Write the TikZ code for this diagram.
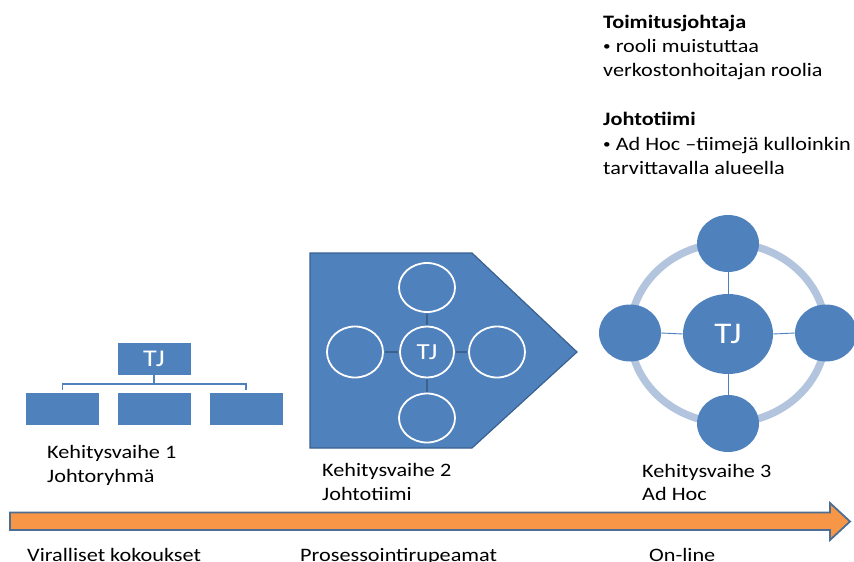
\documentclass[tikz,border=0pt]{standalone}
\usepackage{fontspec}
\setmainfont{Carlito}[FakeStretch=1.17]
\usetikzlibrary{shapes.geometric}
\definecolor{acc}{HTML}{4F81BD}
\definecolor{accdark}{HTML}{3A6190}
\definecolor{ringc}{HTML}{B3C5DE}
\definecolor{arrowfill}{HTML}{F79646}
\definecolor{arrowline}{HTML}{4D6D93}
\newcommand{\smallbul}{\raisebox{1.5pt}{\fontsize{13}{13}\selectfont •}}
\tikzset{
  orgbox/.style={fill=acc, minimum width=73pt, minimum height=32pt, inner sep=0pt},
  orgline/.style={draw=acc, line width=1.6pt},
  whitering/.style={ellipse, draw=white, line width=1.8pt, inner sep=0pt, text=white},
  spoketwo/.style={draw=accdark, line width=2pt},
  dot/.style={ellipse, fill=acc, inner sep=0pt, text=white},
  spokethree/.style={draw=acc, line width=0.9pt},
  lbl/.style={anchor=base west, inner sep=0pt, font=\fontsize{19}{22}\selectfont},
  hdr/.style={anchor=base west, inner sep=0pt, font=\fontsize{19}{22}\selectfont\bfseries},
}
\begin{document}
\begin{tikzpicture}[x=1pt,y=-1pt]
\useasboundingbox (0,0) rectangle (854,562);

% ---- Stage 1: hierarchy ----
\node[orgbox, text=white, font=\fontsize{24}{26}\selectfont] (tj1) at (154,359) {TJ};
\node[orgbox] (b1) at (62.5,409) {};
\node[orgbox] (b2) at (154,409) {};
\node[orgbox] (b3) at (246,409) {};
\coordinate (bar) at (154,384);
\draw[orgline] ([yshift=3pt]b1.north) -- (b1.north |- bar) -- (b3.north |- bar) -- ([yshift=3pt]b3.north);
\draw[orgline] (tj1.south) -- (bar);
\node[lbl] (s1a) at (47,458) {Kehitysvaihe 1};
\node[lbl] (s1b) at (47,482) {Johtoryhmä};

% ---- Stage 2: team inside a pentagon ----
\draw[fill=acc, draw=accdark, line width=1.2pt] (310,253) -- (472,253) -- (577,352) -- (472,448) -- (310,448) -- cycle;
\node[whitering, minimum width=54pt, minimum height=51pt, font=\fontsize{23}{25}\selectfont] (c2) at (427,352) {TJ};
\node[whitering, minimum width=56pt, minimum height=49pt] (t2) at (427,287.5) {};
\node[whitering, minimum width=56pt, minimum height=49pt] (d2) at (427,418) {};
\node[whitering, minimum width=56pt, minimum height=51pt] (l2) at (355,352) {};
\node[whitering, minimum width=56pt, minimum height=51pt] (r2) at (497,352) {};
\draw[spoketwo] ([yshift=1pt]c2.north) -- ([yshift=-1pt]t2.south);
\draw[spoketwo] ([yshift=-1pt]c2.south) -- ([yshift=1pt]d2.north);
\draw[spoketwo] ([xshift=-1pt]c2.west) -- ([xshift=1pt]l2.east);
\draw[spoketwo] ([xshift=1pt]c2.east) -- ([xshift=-1pt]r2.west);
\node[lbl] (s2a) at (322,476) {Kehitysvaihe 2};
\node[lbl] (s2b) at (322,500) {Johtotiimi};

% ---- Stage 3: network ----
\draw[ringc, line width=7.5pt] (728,333) ellipse [x radius=98, y radius=90];
\node[dot, minimum width=90pt, minimum height=80pt, font=\fontsize{30}{32}\selectfont] (c3) at (728,334) {TJ};
\node[dot, minimum width=62pt, minimum height=57pt] (t3) at (728,243.5) {};
\node[dot, minimum width=62pt, minimum height=57pt] (d3) at (728,423.5) {};
\node[dot, minimum width=62pt, minimum height=57pt] (l3) at (630,333) {};
\node[dot, minimum width=62pt, minimum height=57pt] (r3) at (826,333) {};
\draw[spokethree] (c3.north) -- (t3.south);
\draw[spokethree] (c3.south) -- (d3.north);
\draw[spokethree] (c3.west) -- (l3.east);
\draw[spokethree] (c3.east) -- (r3.west);
\node[lbl] (s3a) at (642,477) {Kehitysvaihe 3};
\node[lbl] (s3b) at (642,500) {Ad Hoc};

% ---- Notes ----
\node[hdr] (n1) at (603,28) {Toimitusjohtaja};
\node[lbl] (n2) at (603,52) {\smallbul\ rooli muistuttaa};
\node[lbl] (n3) at (603,76) {verkostonhoitajan roolia};
\node[hdr] (n4) at (603,125) {Johtotiimi};
\node[lbl] (n5) at (603,150) {\smallbul\ Ad Hoc –tiimejä kulloinkin};
\node[lbl] (n6) at (603,174) {tarvittavalla alueella};

% ---- Timeline arrow ----
\draw[fill=arrowfill, draw=arrowline, line width=1.8pt, line join=miter]
  (10,512.5) -- (830,512.5) -- (830,503) -- (850,521.5) -- (830,540) -- (830,530) -- (10,530) -- cycle;
\node[lbl] (p1) at (27,561) {Viralliset kokoukset};
\node[lbl] (p2) at (300,561) {Prosessointirupeamat};
\node[lbl] (p3) at (649,561) {On-line};
\end{tikzpicture}
\end{document}
